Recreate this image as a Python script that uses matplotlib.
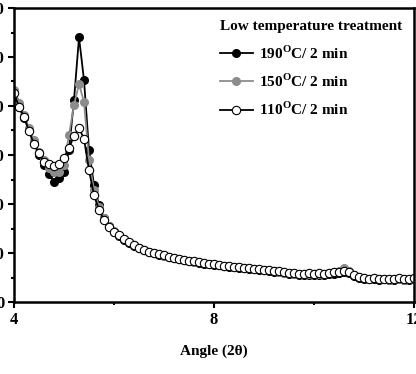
import matplotlib
matplotlib.use('Agg')
import matplotlib.pyplot as plt
from matplotlib.ticker import MultipleLocator

plt.rcParams['font.family'] = 'Liberation Serif'
plt.rcParams['font.weight'] = 'bold'
plt.rcParams['mathtext.fontset'] = 'custom'
plt.rcParams['mathtext.rm'] = 'Liberation Serif:bold'
plt.rcParams['mathtext.bf'] = 'Liberation Serif:bold'

angle = [4.0, 4.1, 4.2, 4.3, 4.4, 4.5, 4.6, 4.7, 4.8, 4.9,
         5.0, 5.1, 5.2, 5.3, 5.4, 5.5, 5.6, 5.7, 5.8, 5.9,
         6.0, 6.1, 6.2, 6.3, 6.4, 6.5, 6.6, 6.7, 6.8, 6.9,
         7.0, 7.1, 7.2, 7.3, 7.4, 7.5, 7.6, 7.7, 7.8, 7.9,
         8.0, 8.1, 8.2, 8.3, 8.4, 8.5, 8.6, 8.7, 8.8, 8.9,
         9.0, 9.1, 9.2, 9.3, 9.4, 9.5, 9.6, 9.7, 9.8, 9.9,
         10.0, 10.1, 10.2, 10.3, 10.4, 10.5, 10.6, 10.7, 10.8, 10.9,
         11.0, 11.1, 11.2, 11.3, 11.4, 11.5, 11.6, 11.7, 11.8, 11.9,
         12.0]

t190 = [412, 398, 376, 351, 324, 300, 280, 262, 245, 253,
        265, 310, 412, 540, 453, 310, 239, 198, 171, 155,
        143, 135, 127, 121, 115, 110, 106, 102, 99, 96,
        93, 91, 89, 87, 85, 83, 81, 80, 78, 77,
        76, 75, 73, 72, 71, 70, 69, 68, 67, 66,
        65, 64, 62, 61, 59, 58, 57, 56, 55, 56,
        55, 56, 55, 57, 58, 59, 62, 59, 54, 50,
        47, 46, 47, 45, 46, 44, 45, 46, 44, 45,
        46]

t150 = [433, 406, 382, 355, 331, 306, 290, 273, 265, 265,
        280, 341, 402, 445, 408, 290, 229, 194, 171, 156,
        145, 137, 129, 122, 116, 111, 107, 103, 100, 97,
        94, 92, 90, 88, 86, 84, 82, 81, 79, 78,
        77, 76, 74, 73, 72, 71, 70, 69, 68, 67,
        66, 65, 63, 62, 60, 59, 58, 57, 57, 58,
        57, 58, 57, 59, 61, 64, 69, 63, 56, 51,
        48, 47, 48, 46, 47, 45, 46, 47, 45, 46,
        47]

t110 = [427, 398, 378, 349, 322, 304, 286, 282, 278, 282,
        294, 314, 339, 355, 333, 269, 218, 188, 167, 153,
        143, 136, 128, 122, 116, 111, 107, 103, 100, 97,
        95, 92, 90, 88, 86, 84, 83, 81, 80, 78,
        77, 76, 74, 73, 72, 71, 70, 69, 68, 67,
        66, 65, 64, 63, 61, 60, 59, 58, 58, 59,
        58, 59, 58, 60, 61, 62, 64, 61, 56, 51,
        48, 47, 48, 46, 47, 46, 47, 48, 46, 47,
        48]

y_ticks = [0, 100, 200, 300, 400, 500, 600]
x_ticks = [4, 8, 12]

fig = plt.figure(figsize=(4.16, 3.74), dpi=100)
ax = fig.add_axes([14 / 416, 72 / 374, 400 / 416, 294 / 374])

ax.plot(angle, t190, '-o', color='black', mfc='black', mec='black',
        ms=5.5, lw=1.3, label=r'190$^\mathrm{O}$C/ 2 min')
ax.plot(angle, t150, '-o', color='#8c8c8c', mfc='#8c8c8c', mec='#8c8c8c',
        ms=5.5, lw=1.3, label=r'150$^\mathrm{O}$C/ 2 min')
ax.plot(angle, t110, '-o', color='black', mfc='white', mec='black',
        ms=6, mew=0.8, lw=1.3, label=r'110$^\mathrm{O}$C/ 2 min')

ax.set_xlim(4, 12)
ax.set_ylim(0, 600)
ax.set_xticks(x_ticks)
ax.xaxis.set_minor_locator(MultipleLocator(2))
ax.set_yticks(y_ticks)
ax.yaxis.set_minor_locator(MultipleLocator(50))
ax.tick_params(which='major', direction='out', length=4, width=1.5, labelsize=12, pad=3)
ax.tick_params(which='minor', direction='out', length=2.5, width=1.5)
for s in ax.spines.values():
    s.set_linewidth(1.8)

ax.set_xlabel(u'Angle (2\u03b8)', fontsize=11, weight='bold', labelpad=12)

leg = ax.legend(loc='upper right', frameon=False, fontsize=11,
                title='Low temperature treatment', handlelength=2.2,
                handletextpad=0.4, borderaxespad=0.4, labelspacing=0.72)
leg.get_title().set_fontweight('bold')
leg.get_title().set_fontsize(11)
leg._legend_box.align = 'left'

fig.savefig('out.png', dpi=100)
